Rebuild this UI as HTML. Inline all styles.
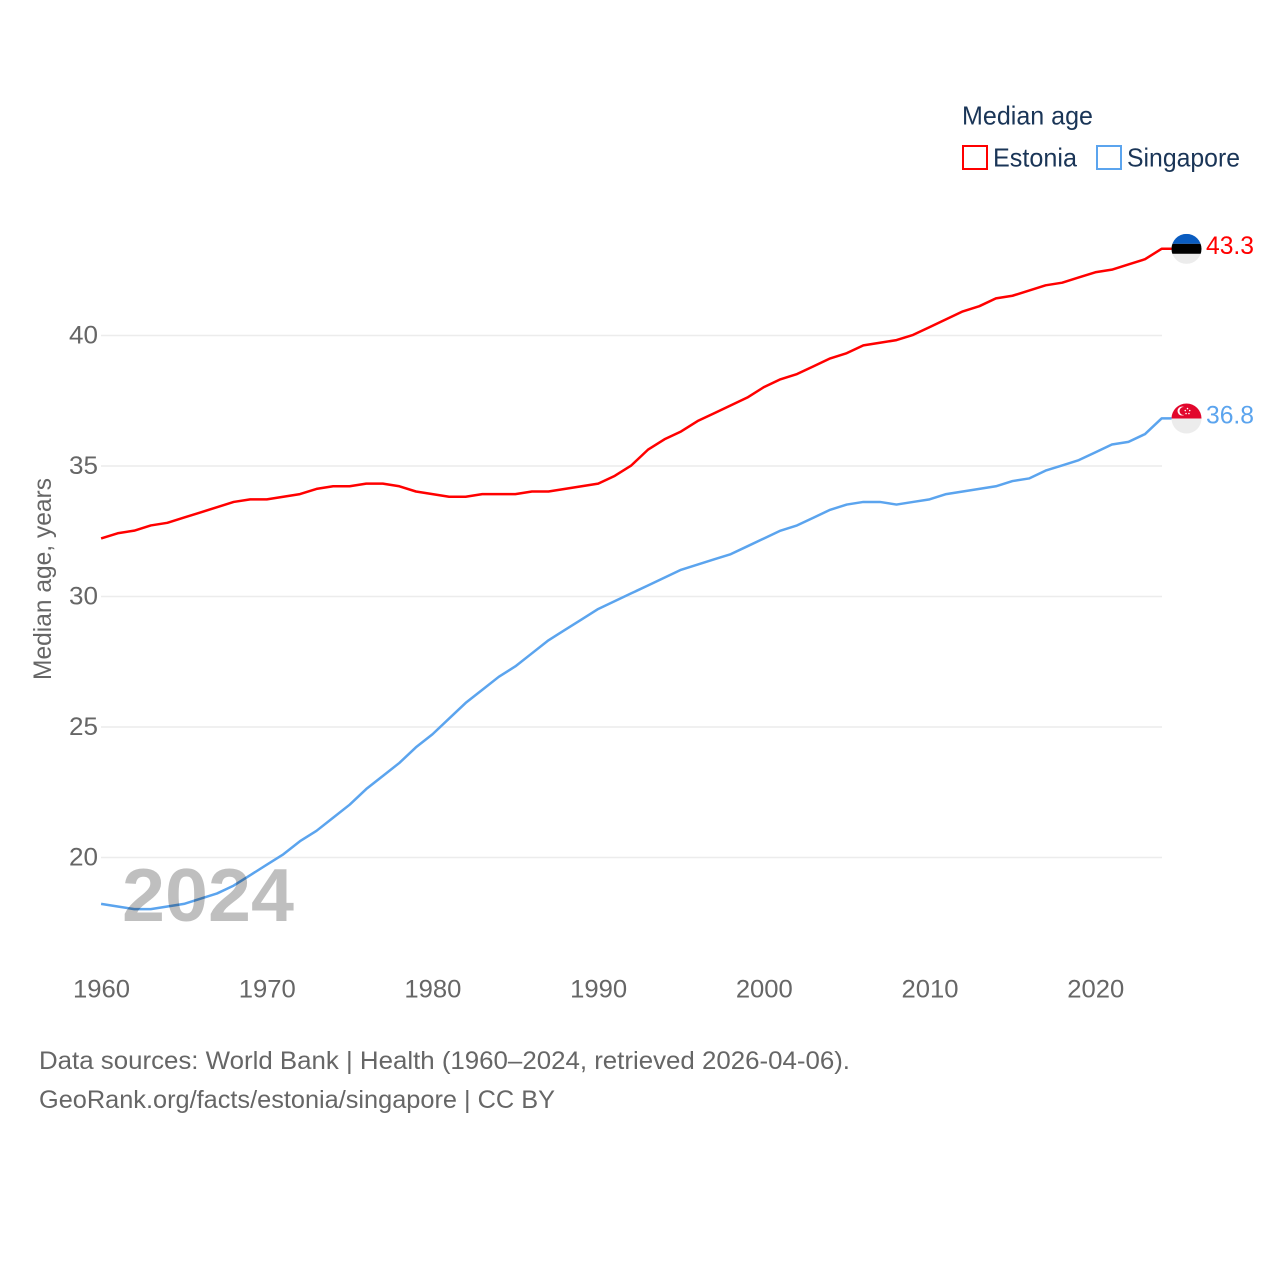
<!DOCTYPE html>
<html lang="en">
<head>
<meta charset="utf-8">
<title>Median age: Estonia and Singapore</title>
<style>
html,body{margin:0;padding:0;background:#fff;width:1280px;height:1280px;overflow:hidden}
svg{display:block}
text{font-family:"Liberation Sans",sans-serif}
</style>
</head>
<body>
<svg id="chart" xmlns="http://www.w3.org/2000/svg" width="1280" height="1280" viewBox="0 0 1280 1280">
  <defs>
    <clipPath id="flag-clip-ee"><circle id="clip-ee" r="15"/></clipPath>
    <clipPath id="flag-clip-sg"><circle id="clip-sg" r="15"/></clipPath>
  </defs>
  <g id="grid"></g>
  <g id="y-ticks"></g>
  <g id="x-ticks"></g>
  <g id="series" transform="translate(-0.4,-0.6)"></g>
  <text x="122" y="921" font-size="75" font-weight="700" fill="#000" fill-opacity="0.25" textLength="172" lengthAdjust="spacingAndGlyphs">2024</text>
  <g id="flags"></g>
  <text transform="translate(51,680) rotate(-90)" font-size="25" fill="#666" textLength="202" lengthAdjust="spacingAndGlyphs">Median age, years</text>
  <text x="962" y="124.5" font-size="26" fill="#1a3557" textLength="131" lengthAdjust="spacingAndGlyphs">Median age</text>
  <rect x="963" y="146" width="24" height="23" fill="none" stroke="#ff0000" stroke-width="2"/>
  <text x="993" y="166.5" font-size="26" fill="#1a3557" textLength="84" lengthAdjust="spacingAndGlyphs">Estonia</text>
  <rect x="1097" y="146" width="24" height="23" fill="none" stroke="#5ba4ee" stroke-width="2"/>
  <text x="1127" y="166.5" font-size="26" fill="#1a3557" textLength="113" lengthAdjust="spacingAndGlyphs">Singapore</text>
  <text x="39" y="1069" font-size="25" fill="#666" textLength="811" lengthAdjust="spacingAndGlyphs">Data sources: World Bank | Health (1960–2024, retrieved 2026-04-06).</text>
  <text x="39" y="1108" font-size="25" fill="#666" textLength="516" lengthAdjust="spacingAndGlyphs">GeoRank.org/facts/estonia/singapore | CC BY</text>
</svg>
<script>
const years = [1960,1961,1962,1963,1964,1965,1966,1967,1968,1969,1970,1971,1972,1973,1974,1975,1976,1977,1978,1979,1980,1981,1982,1983,1984,1985,1986,1987,1988,1989,1990,1991,1992,1993,1994,1995,1996,1997,1998,1999,2000,2001,2002,2003,2004,2005,2006,2007,2008,2009,2010,2011,2012,2013,2014,2015,2016,2017,2018,2019,2020,2021,2022,2023,2024];
const estonia = [32.2,32.4,32.5,32.7,32.8,33.0,33.2,33.4,33.6,33.7,33.7,33.8,33.9,34.1,34.2,34.2,34.3,34.3,34.2,34.0,33.9,33.8,33.8,33.9,33.9,33.9,34.0,34.0,34.1,34.2,34.3,34.6,35.0,35.6,36.0,36.3,36.7,37.0,37.3,37.6,38.0,38.3,38.5,38.8,39.1,39.3,39.6,39.7,39.8,40.0,40.3,40.6,40.9,41.1,41.4,41.5,41.7,41.9,42.0,42.2,42.4,42.5,42.7,42.9,43.3];
const singapore = [18.2,18.1,18.0,18.0,18.1,18.2,18.4,18.6,18.9,19.3,19.7,20.1,20.6,21.0,21.5,22.0,22.6,23.1,23.6,24.2,24.7,25.3,25.9,26.4,26.9,27.3,27.8,28.3,28.7,29.1,29.5,29.8,30.1,30.4,30.7,31.0,31.2,31.4,31.6,31.9,32.2,32.5,32.7,33.0,33.3,33.5,33.6,33.6,33.5,33.6,33.7,33.9,34.0,34.1,34.2,34.4,34.5,34.8,35.0,35.2,35.5,35.8,35.9,36.2,36.8];
const yTickValues = [20,25,30,35,40];
const xTickValues = [1960,1970,1980,1990,2000,2010,2020];

const NS = 'http://www.w3.org/2000/svg';
const xScale = function (year) { return 101.5 + (year - 1960) * (1162 - 101.5) / 64; };
const yScale = function (v) { return 857.5 - (v - 20) * (857.5 - 335.5) / 20; };
function make(tag, parent, attrs, text) {
  const el = document.createElementNS(NS, tag);
  for (const k in attrs) el.setAttribute(k, attrs[k]);
  if (text !== undefined) el.textContent = text;
  parent.appendChild(el);
  return el;
}

const gridG = document.getElementById('grid');
const yG = document.getElementById('y-ticks');
yTickValues.forEach(function (v) {
  const line = make('line', gridG, {x1: 101, x2: 1162, y1: yScale(v), y2: yScale(v), stroke: '#ececec', 'stroke-width': 1.5});
  
  
  const label = make('text', yG, {x: 98, y: yScale(v) + 8, 'text-anchor': 'end', 'font-size': 25, fill: '#666', textLength: 29, lengthAdjust: 'spacingAndGlyphs'}, String(v));
  
  
});

const xG = document.getElementById('x-ticks');
xTickValues.forEach(function (year) {
  const label = make('text', xG, {x: xScale(year) - 28.5, y: 997.5, 'font-size': 25, fill: '#666', textLength: 57, lengthAdjust: 'spacingAndGlyphs'}, String(year));
  
  
});

function linePoints(values) {
  const pts = values.map(function (v, i) { return xScale(years[i]).toFixed(2) + ',' + yScale(v).toFixed(2); });
  const last = values[values.length - 1];
  pts.push((xScale(years[years.length - 1]) + 10).toFixed(2) + ',' + yScale(last).toFixed(2));
  return pts.join(' ');
}
const seriesG = document.getElementById('series');
const estoniaLine = make('polyline', seriesG, {points: linePoints(estonia), fill: 'none', stroke: '#ff0000', 'stroke-width': 2.5, 'stroke-linejoin': 'round'});


const singaporeLine = make('polyline', seriesG, {points: linePoints(singapore), fill: 'none', stroke: '#5ba4ee', 'stroke-width': 2.5, 'stroke-linejoin': 'round'});



const flagsG = document.getElementById('flags');
const flagX = 1186.5;
const eeLast = estonia[estonia.length - 1];
const sgLast = singapore[singapore.length - 1];
const eeY = yScale(eeLast) - 0.5;
const sgY = yScale(sgLast) - 0.5;

document.getElementById('clip-ee').setAttribute('cx', flagX);
document.getElementById('clip-ee').setAttribute('cy', eeY);
document.getElementById('clip-sg').setAttribute('cx', flagX);
document.getElementById('clip-sg').setAttribute('cy', sgY);

const eeFlag = make('g', flagsG, {'clip-path': 'url(#flag-clip-ee)'});


make('rect', eeFlag, {x: flagX - 15, y: eeY - 15, width: 30, height: 10, fill: '#0a5cc0'});
make('rect', eeFlag, {x: flagX - 15, y: eeY - 5, width: 30, height: 10, fill: '#000'});
make('rect', eeFlag, {x: flagX - 15, y: eeY + 5, width: 30, height: 10, fill: '#ececec'});

const sgFlag = make('g', flagsG, {'clip-path': 'url(#flag-clip-sg)'});


make('rect', sgFlag, {x: flagX - 15, y: sgY - 15, width: 30, height: 15, fill: '#e2062c'});
make('rect', sgFlag, {x: flagX - 15, y: sgY, width: 30, height: 15, fill: '#ececec'});
make('circle', sgFlag, {cx: flagX - 4.5, cy: sgY - 7.5, r: 4.5, fill: '#fff'});
make('circle', sgFlag, {cx: flagX - 3, cy: sgY - 7.5, r: 4, fill: '#e2062c'});
[[0, -10.5], [2.8, -8.5], [1.8, -5.5], [-1.8, -5.5], [-2.8, -8.5]].forEach(function (d) {
  make('circle', sgFlag, {cx: flagX + 1 + d[0] * 0.8, cy: sgY + d[1] + 0.5, r: 0.8, fill: '#fff'});
});

const eeValue = make('text', flagsG, {x: 1206, y: eeY + 5, 'font-size': 25, fill: '#ff0000', textLength: 48, lengthAdjust: 'spacingAndGlyphs'}, eeLast.toFixed(1));


const sgValue = make('text', flagsG, {x: 1206, y: sgY + 5, 'font-size': 25, fill: '#5ba4ee', textLength: 48, lengthAdjust: 'spacingAndGlyphs'}, sgLast.toFixed(1));


</script>
</body>
</html>
